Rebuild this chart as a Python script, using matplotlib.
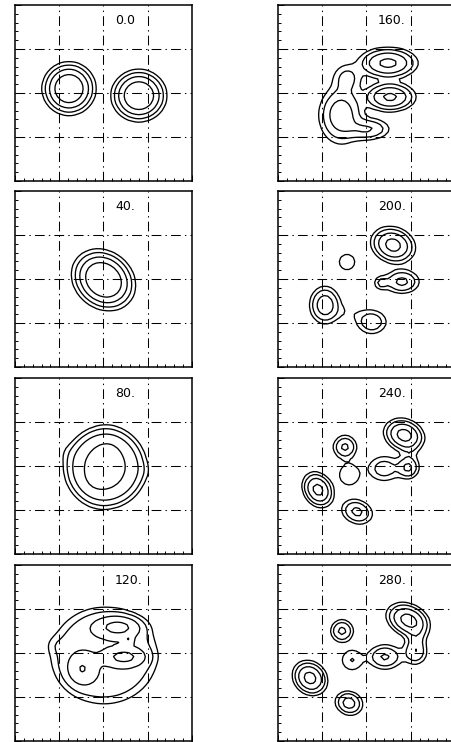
import numpy as np
import matplotlib.pyplot as plt
from matplotlib.ticker import MultipleLocator

plt.rcParams['font.family'] = ['DejaVu Sans']
plt.rcParams['lines.scale_dashes'] = False

times = ['0.0', '40.', '80.', '120.', '160.', '200.', '240.', '280.']
levels = [0.125, 0.25, 0.5, 1.0]

# blob parameters: x0, y0, peak, sigma_x, sigma_y, tilt (deg), profile exponent
t000 = [(-3.9, 0.5, 2.16, 1.28, 1.28, 0, 2),
        (4.0, -0.3, 2.2, 1.32, 1.25, 0, 2)]
t040 = [(0.0, -0.1, 2.54, 1.58, 1.32, -40, 2)]
t080 = [(0.2, -0.15, 1.1, 3.26, 3.26, 0, 4),
        (-0.1, 0.0, 0.12, 1.3, 2.6, -10, 2),
        (0.6, 1.8, 0.08, 0.9, 0.9, 0, 2),
        (-1.2, -1.8, 0.06, 0.9, 0.9, 0, 2),
        (-4.3, 1.6, 0.05, 0.8, 0.8, 0, 2),
        (4.6, -0.6, 0.04, 0.8, 0.8, 0, 2)]
t120 = [(0.06, -0.3, 0.4, 5.2, 4.75, 0, 6),
        (1.64, 2.95, 0.9, 1.6, 0.75, 0, 2),
        (2.3, -0.45, 0.85, 1.4, 0.65, 0, 2),
        (2.77, 1.48, 0.55, 0.35, 0.35, 0, 2),
        (-2.4, -1.8, 0.65, 1.0, 1.1, 0, 2),
        (-5.6, 0.9, 0.08, 0.7, 0.7, 0, 2)]
t160 = [(2.43, 3.4, 1.2, 1.6, 0.85, 0, 2),
        (2.66, -0.45, 1.15, 1.4, 0.8, 0, 2),
        (-2.88, -2.5, 0.8, 1.3, 1.7, 0, 2),
        (-2.2, 1.7, 0.32, 1.0, 1.0, 0, 2),
        (0.17, -4.1, 0.52, 1.4, 0.7, 0, 2)]
t200 = [(3.0, 3.86, 1.3, 1.2, 0.95, -20, 2),
        (-2.2, 1.93, 0.2, 0.9, 0.9, 0, 2),
        (4.0, -0.3, 0.6, 1.1, 0.75, 0, 2),
        (1.64, -0.45, 0.3, 0.5, 0.5, 0, 2),
        (-4.7, -2.95, 0.8, 0.9, 1.1, 0, 2),
        (-2.0, -3.8, 0.1, 1.5, 0.8, 0, 2),
        (0.6, -4.9, 0.45, 1.0, 0.8, 0, 2)]
t240 = [(4.24, 3.52, 1.3, 1.1, 0.85, -20, 2),
        (4.9, 1.7, 0.12, 0.7, 1.2, 0, 2),
        (4.7, -0.2, 0.55, 0.7, 0.7, 0, 2),
        (2.0, -0.3, 0.38, 1.15, 0.9, 0, 2),
        (-2.43, 2.16, 0.58, 0.75, 0.75, 0, 2),
        (-1.95, -1.0, 0.24, 0.95, 1.0, 0, 2),
        (-5.48, -2.7, 1.25, 1.0, 0.78, -60, 2),
        (-1.07, -5.2, 0.6, 1.0, 0.75, -20, 2)]
t280 = [(4.69, 3.75, 1.3, 1.2, 0.85, -25, 2),
        (5.6, 1.8, 0.3, 0.7, 1.2, 0, 2),
        (5.48, 0.0, 0.4, 0.8, 0.8, 0, 2),
        (2.09, -0.45, 0.55, 1.1, 0.8, 0, 2),
        (-2.77, 2.5, 0.6, 0.72, 0.72, 0, 2),
        (-1.64, -0.8, 0.26, 0.9, 0.9, 0, 2),
        (-6.38, -2.84, 1.3, 1.0, 0.85, -45, 2),
        (-1.98, -5.7, 0.7, 0.85, 0.72, -20, 2)]
panels = [t000, t040, t080, t120, t160, t200, t240, t280]


def field(blobs, x, y):
    z = np.zeros_like(x)
    for x0, y0, a, sx, sy, ang, p in blobs:
        th = np.deg2rad(ang)
        u = (x - x0) * np.cos(th) + (y - y0) * np.sin(th)
        v = -(x - x0) * np.sin(th) + (y - y0) * np.cos(th)
        q = (u / sx) ** 2 + (v / sy) ** 2
        z += a * np.exp(-0.5 * q ** (p / 2))
    return z


g = np.linspace(-10, 10, 51)
X, Y = np.meshgrid(g, g)

fig = plt.figure(figsize=(4.52, 7.42), dpi=100)
W, H = 452.0, 742.0
lefts = [15, 278]
tops = [5, 191, 378, 565]
pw, ph = 177, 176

for k, (lab, blobs) in enumerate(zip(times, panels)):
    col, row = divmod(k, 4)
    ax = fig.add_axes([lefts[col] / W, 1 - (tops[row] + ph) / H, pw / W, ph / H])
    ax.contour(X, Y, field(blobs, X, Y), levels=levels, colors='k', linewidths=0.95)
    for v in (-5, 0, 5):
        ax.axvline(v, color='k', lw=0.75, dashes=(7, 3, 1, 3))
        ax.axhline(v, color='k', lw=0.75, dashes=(7, 3, 1, 3))
    ax.set_xlim(-10, 10)
    ax.set_ylim(-10, 10)
    ax.xaxis.set_major_locator(MultipleLocator(5))
    ax.yaxis.set_major_locator(MultipleLocator(5))
    ax.xaxis.set_minor_locator(MultipleLocator(1))
    ax.yaxis.set_minor_locator(MultipleLocator(1))
    ax.tick_params(which='both', direction='in', top=False, right=False,
                   labelbottom=False, labelleft=False, width=0.7)
    ax.tick_params(which='major', length=4)
    ax.tick_params(which='minor', length=2.2)
    for s in ax.spines.values():
        s.set_linewidth(1.1)
    ax.text(0.565, 0.892, lab, transform=ax.transAxes, fontsize=9,
            ha='left', va='baseline')

fig.savefig('out.png', dpi=100)
